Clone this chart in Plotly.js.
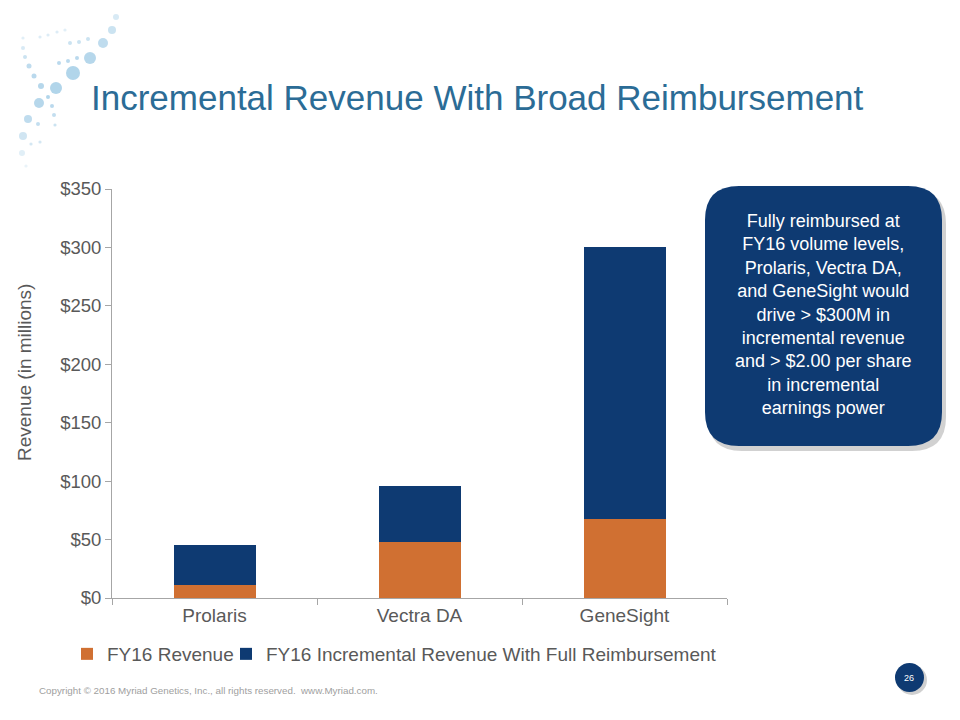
<!DOCTYPE html>
<html>
<head>
<meta charset="utf-8">
<script src="https://cdn.plot.ly/plotly-3.0.1.min.js"></script>
<style>html,body{margin:0;padding:0;background:#fff;}#chart{width:960px;height:720px;}</style>
</head>
<body>
<div id="chart"></div>
<script>
const categories = ["Prolaris", "Vectra DA", "GeneSight"];
const fy16Revenue = [11, 48, 68];
const incrementalRevenue = [34, 48, 232];
const seriesNames = ["FY16 Revenue", "FY16 Incremental Revenue With Full Reimbursement"];
const yTickValues = [0, 50, 100, 150, 200, 250, 300, 350];
const yTickLabels = ["$0", "$50", "$100", "$150", "$200", "$250", "$300", "$350"];

const L = 112, R = 727, T = 189, B = 598;
const W = R - L, H = B - T;
const px = x => (x - L) / W;
const py = y => (B - y) / H;

function roundRect(x0, y0, x1, y1, r) {
  const rx = r / W, ry = r / H;
  const a = px(x0), b = px(x1), top = py(y0), bot = py(y1);
  return `M ${a + rx},${top} L ${b - rx},${top} Q ${b},${top} ${b},${top - ry} ` +
    `L ${b},${bot + ry} Q ${b},${bot} ${b - rx},${bot} L ${a + rx},${bot} ` +
    `Q ${a},${bot} ${a},${bot + ry} L ${a},${top - ry} Q ${a},${top} ${a + rx},${top} Z`;
}

const FONT = "Liberation Sans, Arial, sans-serif";

const traces = [
  { type: "bar", name: seriesNames[0], x: categories, y: fy16Revenue,
    marker: { color: "#D07032" }, legend: "legend" },
  { type: "bar", name: seriesNames[1], x: categories, y: incrementalRevenue,
    marker: { color: "#0E3A72" }, legend: "legend2" }
];

// decorative dots (logo): [x, y, r, opacity]
const dots = [
  [116,17,3,0.45],[112,30,4,0.6],[103,43,5,0.75],[90,58,6,0.85],[73,73,7,0.9],[56,88,6,0.9],
  [39,103,5,0.85],[28,119,4,0.75],[23,136,4,0.55],[22,153,3,0.35],
  [88,39,2,0.6],[79,42,2,0.6],[70,43,2,0.6],[77,58,2,0.8],[68,61,2,0.8],[59,63,2,0.8],
  [48,97,2,0.9],[52,106,2,0.8],[54,115,2,0.7],[55,125,1.6,0.6],[38,124,2,0.7],[40,142,1.6,0.5],[31,144,1.6,0.5],
  [23,38,1.6,0.35],[23,48,2,0.45],[25,57,2,0.6],[29,66,2.5,0.75],[34,76,2.5,0.8],[41,86,3,0.85],
  [40,37,1.6,0.4],[48,35,1.6,0.4],[57,32,1.6,0.4],[65,30,1.6,0.35],[26,166,1.6,0.25]
];
const shapes = dots.map(d => ({
  type: "circle", xref: "paper", yref: "paper",
  x0: px(d[0] - d[2]), x1: px(d[0] + d[2]), y0: py(d[1] + d[2]), y1: py(d[1] - d[2]),
  fillcolor: "#A9D0E8", opacity: d[3], line: { width: 0 }
}));

shapes.push(
  { type: "path", xref: "paper", yref: "paper", path: roundRect(708, 190, 946, 451, 34),
    fillcolor: "#9a9a9a", opacity: 0.45, line: { width: 0 } },
  { type: "path", xref: "paper", yref: "paper", path: roundRect(705, 186, 942, 446, 34),
    fillcolor: "#0E3A72", line: { width: 0 } },
  { type: "circle", xref: "paper", yref: "paper",
    x0: px(897), x1: px(927), y0: py(695), y1: py(665),
    fillcolor: "#8a8a8a", opacity: 0.4, line: { width: 0 } },
  { type: "circle", xref: "paper", yref: "paper",
    x0: px(895), x1: px(924), y0: py(692), y1: py(663),
    fillcolor: "#0E3A72", line: { width: 0 } }
);

const annotations = [
  { xref: "paper", yref: "paper", x: px(89), y: py(98), xanchor: "left", yanchor: "middle",
    text: "Incremental Revenue With Broad Reimbursement", showarrow: false,
    font: { family: FONT, size: 35, color: "#2B6C96" } },
  { xref: "paper", yref: "paper", x: px(24), y: py(373), xanchor: "center", yanchor: "middle",
    text: "Revenue (in millions)", textangle: -90, showarrow: false,
    font: { family: FONT, size: 19, color: "#595959" } },
  { xref: "paper", yref: "paper", x: px(823.5), y: py(314), xanchor: "center", yanchor: "middle",
    text: "Fully reimbursed at<br>FY16 volume levels,<br>Prolaris, Vectra DA,<br>and GeneSight would<br>drive &gt; $300M in<br>incremental revenue<br>and &gt; $2.00 per share<br>in incremental<br>earnings power",
    showarrow: false, align: "center",
    font: { family: FONT, size: 18, color: "#ffffff" } },
  { xref: "paper", yref: "paper", x: px(909.5), y: py(677.5), xanchor: "center", yanchor: "middle",
    text: "26", showarrow: false, font: { family: FONT, size: 9, color: "#ffffff" } },
  { xref: "paper", yref: "paper", x: px(37), y: py(690), xanchor: "left", yanchor: "middle",
    text: "Copyright © 2016 Myriad Genetics, Inc., all rights reserved.  www.Myriad.com.",
    showarrow: false, font: { family: FONT, size: 9.8, color: "#a0a0a0" } }
];

const legendFont = { family: FONT, size: 19, color: "#595959" };

const layout = {
  width: 960, height: 720,
  margin: { l: L, r: 960 - R, t: T, b: 720 - B, pad: 0 },
  paper_bgcolor: "#ffffff", plot_bgcolor: "#ffffff",
  barmode: "stack", bargap: 0.6,
  showlegend: true,
  font: { family: FONT, color: "#595959" },
  xaxis: {
    showgrid: false, zeroline: false, showline: true, linecolor: "#a6a6a6", linewidth: 1,
    ticks: "outside", tickson: "boundaries", ticklen: 6, tickcolor: "#a6a6a6",
    tickfont: { family: FONT, size: 19, color: "#595959" }, fixedrange: true
  },
  yaxis: {
    range: [0, 350], tickvals: yTickValues, ticktext: yTickLabels,
    showgrid: false, zeroline: false, showline: true, linecolor: "#a6a6a6", linewidth: 1,
    ticks: "outside", ticklen: 6, tickcolor: "#a6a6a6",
    tickfont: { family: FONT, size: 18.5, color: "#595959" },
    fixedrange: true
  },
  legend: {
    orientation: "h", x: px(67), y: py(654), xanchor: "left", yanchor: "middle",
    font: legendFont, itemwidth: 30, bgcolor: "rgba(0,0,0,0)"
  },
  legend2: {
    orientation: "h", x: px(226), y: py(654), xanchor: "left", yanchor: "middle",
    font: legendFont, itemwidth: 30, bgcolor: "rgba(0,0,0,0)"
  },
  shapes: shapes,
  annotations: annotations
};

Plotly.newPlot("chart", traces, layout, { displayModeBar: false, staticPlot: true });
</script>
</body>
</html>
